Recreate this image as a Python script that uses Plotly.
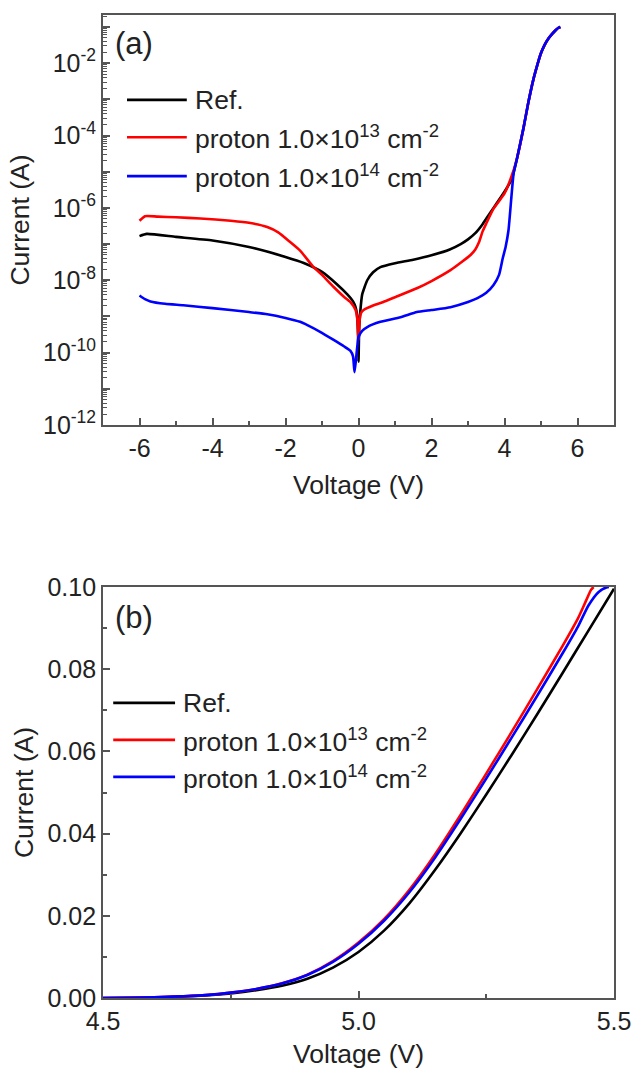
import plotly.graph_objects as go

# ---------------- Panel (a): log I-V ----------------
v_ref_a = [-6.0, -5.8, -5.0, -4.0, -3.0, -2.0, -1.5, -1.0, -0.6, -0.3, -0.15, -0.08, -0.04, -0.01, 0.0,
           0.02, 0.05, 0.1, 0.24, 0.4, 0.6, 1.0, 1.5, 2.0, 2.5, 2.8, 3.0, 3.2, 3.4, 3.6, 3.8, 4.0, 4.2,
           4.35, 4.52, 4.65, 4.79, 4.9, 4.99, 5.1, 5.2, 5.3, 5.4, 5.48, 5.53]
i_ref_a = [1.66e-7, 1.91e-7, 1.58e-7, 1.26e-7, 8.3e-8, 4.4e-8, 3.0e-8, 1.7e-8, 7.9e-9, 4.0e-9, 2.6e-9, 1.8e-9, 1.1e-9, 2.5e-10, 5.6e-11,
           5.0e-10, 1.4e-9, 4.0e-9, 1.0e-8, 1.66e-8, 2.3e-8, 2.95e-8, 3.7e-8, 4.9e-8, 7.1e-8, 1.0e-7, 1.35e-7, 2.0e-7, 3.55e-7, 7.1e-7, 1.41e-6, 2.8e-6, 6.3e-6,
           2.5e-5, 1.6e-4, 7.9e-4, 3.5e-3, 8.9e-3, 1.78e-2, 3.2e-2, 4.7e-2, 6.3e-2, 8.1e-2, 9.5e-2, 0.1]

v_p13_a = [-6.0, -5.85, -5.5, -5.0, -4.33, -3.5, -2.96, -2.5, -2.2, -1.9, -1.6, -1.23, -1.0, -0.68, -0.4, -0.22, -0.08, -0.03, 0.0,
           0.03, 0.07, 0.14, 0.4, 0.68, 1.0, 1.6, 2.0, 2.52, 3.07, 3.2, 3.3, 3.4, 3.5, 3.7, 4.0, 4.25,
           4.35, 4.52, 4.65, 4.79, 4.9, 4.99, 5.1, 5.2, 5.3, 5.4, 5.48, 5.53]
i_p13_a = [4.4e-7, 5.9e-7, 5.75e-7, 5.5e-7, 5.1e-7, 4.4e-7, 3.8e-7, 2.95e-7, 2.1e-7, 1.2e-7, 6.6e-8, 2.3e-8, 1.41e-8, 6.5e-9, 3.5e-9, 2.5e-9, 1.5e-9, 7.9e-10, 2.2e-10,
           7.9e-10, 1.26e-9, 1.5e-9, 2.0e-9, 2.5e-9, 3.4e-9, 6.0e-9, 9.5e-9, 1.9e-8, 5.0e-8, 7.1e-8, 1.12e-7, 2.24e-7, 3.7e-7, 9.5e-7, 2.5e-6, 1.1e-5,
           2.5e-5, 1.6e-4, 7.9e-4, 3.5e-3, 8.9e-3, 1.78e-2, 3.2e-2, 4.7e-2, 6.3e-2, 8.1e-2, 9.5e-2, 0.1]

v_p14_a = [-6.0, -5.85, -5.7, -5.3, -4.8, -4.0, -3.0, -2.5, -2.0, -1.6, -1.4, -1.04, -0.68, -0.4, -0.22, -0.15, -0.11, -0.07, -0.03, 0.0,
           0.1, 0.24, 0.6, 1.15, 1.6, 2.0, 2.52, 3.0, 3.26, 3.5, 3.7, 3.85, 3.95, 4.03, 4.11, 4.25,
           4.35, 4.52, 4.65, 4.79, 4.9, 4.99, 5.1, 5.2, 5.3, 5.4, 5.48, 5.53]
i_p14_a = [3.8e-9, 3.0e-9, 2.6e-9, 2.24e-9, 2.04e-9, 1.7e-9, 1.32e-9, 1.15e-9, 9.1e-10, 7.1e-10, 5.75e-10, 3.7e-10, 2.24e-10, 1.5e-10, 1.12e-10, 7.9e-11, 2.9e-11, 6.3e-11, 1.58e-10, 2.7e-10,
           4.0e-10, 5.1e-10, 7.1e-10, 9.5e-10, 1.32e-9, 1.5e-9, 1.8e-9, 2.5e-9, 3.2e-9, 4.5e-9, 7.4e-9, 1.41e-8, 4.0e-8, 8.3e-8, 2.45e-7, 9.1e-6,
           2.5e-5, 1.6e-4, 7.9e-4, 3.5e-3, 8.9e-3, 1.78e-2, 3.2e-2, 4.7e-2, 6.3e-2, 8.1e-2, 9.5e-2, 0.1]

# ---------------- Panel (b): linear forward I-V ----------------
v_ref_b = [4.5, 4.55, 4.6, 4.65, 4.7, 4.75, 4.8, 4.85, 4.9, 4.95, 5.0, 5.05, 5.1, 5.15, 5.2, 5.25, 5.3, 5.35, 5.4, 5.45, 5.5]
i_ref_b = [0.0, 0.00005, 0.0001, 0.0003, 0.0006, 0.0011, 0.0019, 0.003, 0.0047, 0.0074, 0.0112, 0.0164, 0.0231, 0.0312, 0.0401,
           0.0495, 0.0592, 0.0691, 0.0792, 0.0894, 0.0996]
v_p13_b = [4.5, 4.55, 4.6, 4.65, 4.7, 4.75, 4.8, 4.85, 4.9, 4.95, 5.0, 5.05, 5.1, 5.15, 5.2, 5.25, 5.3, 5.35, 5.4, 5.43, 5.44, 5.45, 5.455, 5.46]
i_p13_b = [0.0, 0.00006, 0.00015, 0.0004, 0.0007, 0.0013, 0.0022, 0.0036, 0.0057, 0.009, 0.0135, 0.0192, 0.0264, 0.035, 0.0446,
           0.0546, 0.0648, 0.0752, 0.0858, 0.0925, 0.0952, 0.098, 0.0993, 0.1]
v_p14_b = [4.5, 4.55, 4.6, 4.65, 4.7, 4.75, 4.8, 4.85, 4.9, 4.95, 5.0, 5.05, 5.1, 5.15, 5.2, 5.25, 5.3, 5.35, 5.4, 5.43, 5.45, 5.47, 5.485, 5.49]
i_p14_b = [0.0, 0.00006, 0.00015, 0.0004, 0.0007, 0.0013, 0.0022, 0.0035, 0.0056, 0.0088, 0.0132, 0.0188, 0.0258, 0.0342, 0.0436,
           0.0534, 0.0634, 0.0736, 0.084, 0.0905, 0.0955, 0.0988, 0.0999, 0.1]

series_names = ["Ref.",
                "proton 1.0×10<sup>13</sup> cm<sup>-2</sup>",
                "proton 1.0×10<sup>14</sup> cm<sup>-2</sup>"]
series_colors = ["#000000", "#ff0000", "#0000ff"]

x_ticks_a = [-6, -4, -2, 0, 2, 4, 6]
y_exps_a = list(range(-12, 0))
x_ticks_b = [4.5, 5.0, 5.5]
y_ticks_b = [0.0, 0.02, 0.04, 0.06, 0.08, 0.10]

FONT = "Liberation Sans, Arial, sans-serif"
AXC = "#555555"
TXC = "#222222"
LW = 2.6

fig = go.Figure()

data_a = [(v_ref_a, i_ref_a), (v_p13_a, i_p13_a), (v_p14_a, i_p14_a)]
data_b = [(v_ref_b, i_ref_b), (v_p13_b, i_p13_b), (v_p14_b, i_p14_b)]

for (vx, iy), nm, c in zip(data_a, series_names, series_colors):
    fig.add_trace(go.Scatter(x=vx, y=iy, mode="lines", name=nm, showlegend=False,
                             line=dict(color=c, width=LW, shape="spline", smoothing=0.5),
                             xaxis="x", yaxis="y"))
for (vx, iy), nm, c in zip(data_b, series_names, series_colors):
    fig.add_trace(go.Scatter(x=vx, y=iy, mode="lines", name=nm, showlegend=False,
                             line=dict(color=c, width=LW, shape="spline", smoothing=0.6),
                             xaxis="x2", yaxis="y2"))

common_axis = dict(showline=True, linecolor=AXC, linewidth=1.8, mirror=True,
                   ticks="inside", ticklen=7, tickwidth=1.5, tickcolor=AXC,
                   showgrid=False, zeroline=False, automargin=False,
                   tickfont=dict(family=FONT, size=25, color=TXC))
title_font = dict(family=FONT, size=26.5, color=TXC)

y_tickvals_a = [10.0 ** e for e in y_exps_a]
y_ticktext_a = [("10<sup>%d</sup>" % e) if e % 2 == 0 else "" for e in y_exps_a]
y_minor_a = [k * 10.0 ** e for e in y_exps_a for k in range(2, 10)]

fig.update_layout(
    width=632, height=1077,
    margin=dict(l=103, r=18, t=15, b=79),
    paper_bgcolor="white", plot_bgcolor="white",
    font=dict(family=FONT, color=TXC),
    xaxis=dict(common_axis, domain=[0, 1], anchor="y", range=[-7, 7],
               tickmode="array", tickvals=x_ticks_a, ticktext=[str(t) for t in x_ticks_a],
               minor=dict(ticks="inside", ticklen=4, tickwidth=1.5, tickcolor=AXC, dtick=1),
               title=dict(text="Voltage (V)", font=title_font, standoff=15)),
    yaxis=dict(common_axis, domain=[0.5829, 1.0], anchor="x", type="log", range=[-12, -0.67],
               tickmode="array", tickvals=y_tickvals_a, ticktext=y_ticktext_a,
               minor=dict(ticks="inside", ticklen=4, tickwidth=1.2, tickcolor=AXC,
                          tickmode="array", tickvals=y_minor_a),
               title=dict(text="Current (A)", font=title_font, standoff=6)),
    xaxis2=dict(common_axis, domain=[0, 1], anchor="y2", range=[4.5, 5.5],
                tickmode="array", tickvals=x_ticks_b, ticktext=["%.1f" % t for t in x_ticks_b],
                minor=dict(ticks="inside", ticklen=4, tickwidth=1.5, tickcolor=AXC, dtick=0.25),
                title=dict(text="Voltage (V)", font=title_font, standoff=11)),
    yaxis2=dict(common_axis, domain=[0, 0.4181], anchor="x2", range=[0, 0.1],
                tickmode="array", tickvals=y_ticks_b, ticktext=["%.2f" % t for t in y_ticks_b],
                minor=dict(ticks="inside", ticklen=4, tickwidth=1.5, tickcolor=AXC, dtick=0.01),
                title=dict(text="Current (A)", font=title_font, standoff=6)),
)

# manual legends (long line samples as in the reference)
legend_specs = [
    ("x domain", "y domain", [0.047, 0.164], 0.176, [0.793, 0.702, 0.607]),
    ("x2 domain", "y2 domain", [0.020, 0.141], 0.153, [0.718, 0.628, 0.538]),
]
for xr, yr, (lx0, lx1), tx, ys in legend_specs:
    for nm, c, yy in zip(series_names, series_colors, ys):
        fig.add_shape(type="line", xref=xr, yref=yr, x0=lx0, x1=lx1, y0=yy, y1=yy,
                      line=dict(color=c, width=LW))
        fig.add_annotation(xref=xr, yref=yr, x=tx, y=yy, text=nm, showarrow=False,
                           xanchor="left", yanchor="middle",
                           font=dict(family=FONT, size=26.5, color=TXC))

fig.add_annotation(xref="x domain", yref="y domain", x=0.02, y=0.93, text="(a)", showarrow=False,
                   xanchor="left", yanchor="middle", font=dict(family=FONT, size=31, color=TXC))
fig.add_annotation(xref="x2 domain", yref="y2 domain", x=0.02, y=0.927, text="(b)", showarrow=False,
                   xanchor="left", yanchor="middle", font=dict(family=FONT, size=31, color=TXC))

fig.write_html("out.html")
